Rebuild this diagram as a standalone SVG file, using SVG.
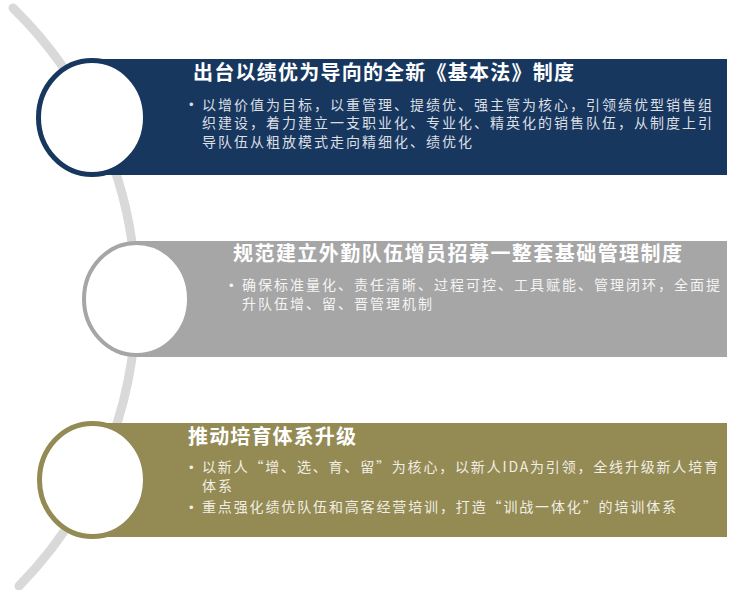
<svg xmlns="http://www.w3.org/2000/svg" width="736" height="590" viewBox="0 0 736 590">
<style>
.title{font-family:"Noto Sans CJK SC","Noto Sans",sans-serif;font-weight:bold;font-size:20px;fill:#ffffff}
.body{font-family:"Noto Sans CJK SC","Noto Sans",sans-serif;font-size:14px;letter-spacing:2px}
.b1{fill:#dcdfe4}
.b2{fill:#f4f4f4}
.b3{fill:#f0eee4}
.bul{font-family:"Liberation Sans",sans-serif;font-size:13px}
</style>
<rect width="736" height="590" fill="#ffffff"/>
<g id="connectors">
<path d="M 13 8 A 408 408 0 0 1 19 586" fill="none" stroke="#d9d9d9" stroke-width="9" stroke-linecap="round"/>
</g>
<g id="node1">
<rect x="90" y="59" width="637" height="116" fill="#17375e"/>
<ellipse cx="92" cy="117.5" rx="53.5" ry="57" fill="#ffffff" stroke="#17375e" stroke-width="5"/>
<text class="title" x="193" y="80" textLength="381" lengthAdjust="spacing">出台以绩优为导向的全新《基本法》制度</text>
<text class="bul b1" x="189" y="109">•</text>
<text class="body b1" x="202" y="109.5">以增价值为目标，以重管理、提绩优、强主管为核心，引领绩优型销售组</text>
<text class="body b1" x="202" y="128">织建设，着力建立一支职业化、专业化、精英化的销售队伍，从制度上引</text>
<text class="body b1" x="202" y="146.5">导队伍从粗放模式走向精细化、绩优化</text>
</g>
<g id="node2">
<rect x="135" y="241" width="592" height="116" fill="#a6a6a6"/>
<ellipse cx="136.5" cy="299" rx="52.5" ry="56" fill="#ffffff" stroke="#a6a6a6" stroke-width="4"/>
<text class="title" x="233" y="261" textLength="449" lengthAdjust="spacing">规范建立外勤队伍增员招募一整套基础管理制度</text>
<text class="bul b2" x="229" y="289.5">•</text>
<text class="body b2" x="242" y="289.5">确保标准量化、责任清晰、过程可控、工具赋能、管理闭环，全面提</text>
<text class="body b2" x="242" y="308.5">升队伍增、留、晋管理机制</text>
</g>
<g id="node3">
<rect x="90" y="423" width="637" height="114" fill="#948a54"/>
<ellipse cx="92.5" cy="480" rx="53" ry="56.5" fill="#ffffff" stroke="#948a54" stroke-width="5"/>
<text class="title" x="188" y="444" textLength="168" lengthAdjust="spacing">推动培育体系升级</text>
<text class="bul b3" x="189" y="471.5">•</text>
<text class="body b3" x="202" y="471.5" textLength="518" lengthAdjust="spacing">以新人“增、选、育、留”为核心，以新人IDA为引领，全线升级新人培育</text>
<text class="body b3" x="202" y="490.5">体系</text>
<text class="bul b3" x="189" y="512">•</text>
<text class="body b3" x="202" y="512" textLength="476" lengthAdjust="spacing">重点强化绩优队伍和高客经营培训，打造“训战一体化”的培训体系</text>
</g>
</svg>
